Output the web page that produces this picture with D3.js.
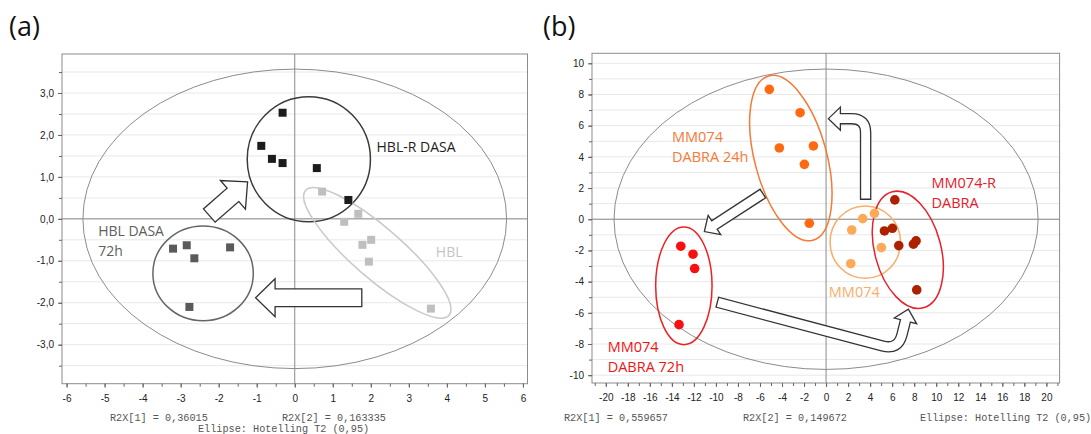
<!DOCTYPE html>
<html>
<head>
<meta charset="utf-8">
<script src="https://cdn.jsdelivr.net/npm/d3@7"></script>
<style>
  body { margin: 0; background: #fff; }
  svg { display: block; font-family: "Liberation Sans", Arial, sans-serif; }
</style>
</head>
<body>
<svg id="chart" width="1091" height="434"></svg>
<script>
// ---------- panel (a) data ----------
const aXLabels = d3.range(-6, 7, 1);
const aYLabels = d3.range(-3, 4, 1);
const aXMinor = d3.range(-6, 6.01, 0.5);
const aYMinor = d3.range(-3.5, 3.51, 0.5);

const hblrDasaX = [-0.32, -0.88, -0.60, -0.32, 0.58, 1.41];
const hblrDasaY = [2.53, 1.74, 1.43, 1.33, 1.21, 0.45];
const hblX = [0.72, 1.67, 1.30, 2.01, 1.78, 1.95, 3.58];
const hblY = [0.65, 0.12, -0.07, -0.50, -0.62, -1.02, -2.14];
const hblDasa72X = [-3.20, -2.84, -2.64, -1.70, -2.77];
const hblDasa72Y = [-0.71, -0.63, -0.94, -0.68, -2.10];

// confidence ellipses: centre, semi-axes (axis units), rotation (deg)
const aEllipses = [
  { name: "Hotelling", cx: 0, cy: 0, rx: 5.57, ry: 3.57, angle: 0 },
  { name: "HBL-R DASA", cx: 0.37, cy: 1.42, rx: 1.62, ry: 1.49, angle: 0 },
  { name: "HBL DASA 72h", cx: -2.41, cy: -1.30, rx: 1.32, ry: 1.13, angle: 0 },
  { name: "HBL", cx: 2.17, cy: -0.81, rx: 2.50, ry: 0.60, angle: 41 }
];
const aArrows = [
  { pts: [[-2.26, 0.07], [-1.24, 0.88]], r: 0 },
  { pts: [[1.78, -1.88], [-1.03, -1.88]], r: 0 }
];
const aLabels = [
  { text: ["HBL-R DASA"], x: 2.15, y: 1.59, key: "HBL-R DASA" },
  { text: ["HBL DASA", "72h"], x: -5.17, y: -0.42, key: "HBL DASA 72h" },
  { text: ["HBL"], x: 3.71, y: -0.91, key: "HBL" }
];
const aStats = ["R2X[1] = 0,36015", "R2X[2] = 0,163335", "Ellipse: Hotelling T2 (0,95)"];

// ---------- panel (b) data ----------
const bXLabels = d3.range(-20, 21, 2);
const bYLabels = d3.range(-10, 11, 2);
const bXMinor = d3.range(-21, 21.01, 1);
const bYMinor = d3.range(-10, 10.01, 1);

const dabra24X = [-5.15, -2.36, -4.24, -1.15, -1.97, -1.52];
const dabra24Y = [8.33, 6.83, 4.57, 4.70, 3.52, -0.26];
const mm074X = [3.33, 4.39, 2.33, 5.02, 2.24];
const mm074Y = [0.04, 0.38, -0.69, -1.82, -2.85];
const mm074RX = [6.24, 5.30, 6.02, 6.60, 7.93, 8.17, 8.23];
const mm074RY = [1.24, -0.75, -0.58, -1.69, -1.60, -1.39, -4.53];
const dabra72X = [-13.19, -12.08, -11.93, -13.35];
const dabra72Y = [-1.73, -2.24, -3.16, -6.76];

const bEllipses = [
  { name: "Hotelling", cx: 0, cy: 0, rx: 19.25, ry: 9.63, angle: 0 },
  { name: "DABRA 24h", cx: -3.20, cy: 3.92, rx: 7.72, ry: 2.31, angle: 75 },
  { name: "MM074", cx: 3.56, cy: -1.47, rx: 3.20, ry: 2.32, angle: 0 },
  { name: "MM074-R", cx: 7.42, cy: -1.96, rx: 5.45, ry: 2.12, angle: 75 },
  { name: "DABRA 72h", cx: -12.91, cy: -4.27, rx: 2.56, ry: 3.77, angle: 0 }
];
const bArrows = [
  { pts: [[3.59, 1.24], [3.59, 6.45], [0.21, 6.45]], r: 14 },
  { pts: [[-5.69, 1.67], [-11.05, -0.79]], r: 0 },
  { pts: [[-9.93, -5.31], [6.54, -8.39], [7.47, -5.77]], r: 16 }
];
const bLabels = [
  { text: ["MM074", "DABRA 24h"], x: -13.99, y: 4.95, key: "DABRA 24h" },
  { text: ["MM074-R", "DABRA"], x: 9.57, y: 2.0, key: "MM074-R" },
  { text: ["MM074"], x: 0.25, y: -4.99, key: "MM074" },
  { text: ["MM074", "DABRA 72h"], x: -19.83, y: -8.54, key: "DABRA 72h" }
];
const bStats = ["R2X[1] = 0,559657", "R2X[2] = 0,149672", "Ellipse: Hotelling T2 (0,95)"];

// ---------- styles ----------
const colors = {
  "Hotelling": "#8c8c8c",
  "HBL-R DASA": "#3a3a3a",
  "HBL DASA 72h": "#666666",
  "HBL": "#c9c9c9",
  "DABRA 24h": "#f47a35",
  "MM074": "#f9ad68",
  "MM074-R": "#e5232c",
  "DABRA 72h": "#ee2020"
};
const labelColors = {
  "HBL-R DASA": "#1e1e1e",
  "HBL DASA 72h": "#5e5e5e",
  "HBL": "#c4c4c4",
  "DABRA 24h": "#f47a35",
  "MM074": "#f9ad68",
  "MM074-R": "#e2202a",
  "DABRA 72h": "#ee1515"
};

const svg = d3.select("#chart");
svg.append("rect").attr("width", 1091).attr("height", 434).attr("fill", "#fff");

const comma = d3.formatLocale({ decimal: ",", thousands: ".", grouping: [3], currency: ["", ""], minus: "-" });

function drawPanel(cfg) {
  const { x, y } = cfg;
  const [x0, x1] = x.range(), [y1, y0] = y.range();
  const kx = x(1) - x(0), ky = y(0) - y(1);
  const g = svg.append("g");

  // horizontal grid
  g.append("g").selectAll("line").data(cfg.grid).join("line")
    .attr("x1", x0).attr("x2", x1)
    .attr("y1", d => y(d)).attr("y2", d => y(d))
    .attr("stroke", "#e8e8e8").attr("stroke-width", 1);

  // zero axes
  g.append("line").attr("x1", x(0)).attr("x2", x(0)).attr("y1", y0).attr("y2", y1)
    .attr("stroke", "#8a8a8a");
  g.append("line").attr("x1", x0).attr("x2", x1).attr("y1", y(0)).attr("y2", y(0))
    .attr("stroke", "#8a8a8a");

  // frame
  g.append("rect").attr("x", x0).attr("y", y0).attr("width", x1 - x0).attr("height", y1 - y0)
    .attr("fill", "none").attr("stroke", "#8c8c8c");

  // axes: minor ticks, then labelled ticks
  const axes = [
    { ax: d3.axisBottom(x).tickValues(cfg.xMinor).tickSize(3).tickFormat(""), t: `translate(0,${y1})` },
    { ax: d3.axisBottom(x).tickValues(cfg.xLabels).tickSize(4).tickPadding(7).tickFormat(cfg.xFmt), t: `translate(0,${y1})` },
    { ax: d3.axisLeft(y).tickValues(cfg.yMinor).tickSize(3).tickFormat(""), t: `translate(${x0},0)` },
    { ax: d3.axisLeft(y).tickValues(cfg.yLabels).tickSize(4).tickPadding(4).tickFormat(cfg.yFmt), t: `translate(${x0},0)` }
  ];
  axes.forEach(a => {
    const ag = g.append("g").attr("transform", a.t).call(a.ax);
    ag.select(".domain").remove();
    ag.selectAll("line").attr("stroke", "#666");
    ag.selectAll("text").attr("fill", "#222").style("font-size", "10px")
      .style("font-family", "'Liberation Sans', Arial, sans-serif");
  });

  // ellipses
  g.append("g").selectAll("ellipse").data(cfg.ellipses).join("ellipse")
    .attr("cx", d => x(d.cx)).attr("cy", d => y(d.cy))
    .attr("rx", d => d.rx * kx).attr("ry", d => d.ry * ky)
    .attr("transform", d => `rotate(${d.angle},${x(d.cx)},${y(d.cy)})`)
    .attr("fill", "none")
    .attr("stroke", d => colors[d.name])
    .attr("stroke-width", d => d.name === "Hotelling" ? 1 : 1.5);

  // arrows
  cfg.arrows.forEach(a => blockArrow(g, a.pts.map(p => [x(p[0]), y(p[1])]), a.r, cfg.arrowStyle));

  // points
  cfg.series.forEach(s => {
    const pts = s.xs.map((v, i) => [v, s.ys[i]]);
    if (s.shape === "square") {
      g.append("g").selectAll("rect").data(pts).join("rect")
        .attr("x", d => x(d[0]) - 4).attr("y", d => y(d[1]) - 4)
        .attr("width", 8).attr("height", 8).attr("fill", s.color);
    } else {
      g.append("g").selectAll("circle").data(pts).join("circle")
        .attr("cx", d => x(d[0])).attr("cy", d => y(d[1]))
        .attr("r", 4.8).attr("fill", s.color);
    }
  });

  // group labels
  cfg.labels.forEach(l => {
    const t = g.append("text").attr("x", x(l.x)).attr("y", y(l.y))
      .attr("fill", labelColors[l.key])
      .style("font-family", "'Open Sans', 'Noto Sans', sans-serif")
      .style("font-size", cfg.labelSize + "px");
    l.text.forEach((s, i) => t.append("tspan").attr("x", x(l.x)).attr("dy", i ? 19.5 : 0).text(s));
  });

  // panel letter
  svg.append("text").attr("x", cfg.letterX).attr("y", 36).text(cfg.letter)
    .attr("fill", "#111").style("font-family", "'Open Sans', 'Noto Sans', sans-serif")
    .style("font-size", "27px");

  // statistics footer
  cfg.stats.forEach((s, i) => {
    svg.append("text").attr("x", cfg.statPos[i][0]).attr("y", cfg.statPos[i][1]).text(s)
      .attr("fill", "#555").style("font-family", "'Liberation Mono', 'DejaVu Sans Mono', monospace")
      .style("font-size", "10.2px").attr("xml:space", "preserve");
  });
}

function unit(a, b) {
  const dx = b[0] - a[0], dy = b[1] - a[1], l = Math.hypot(dx, dy);
  return [dx / l, dy / l];
}

function roundPath(p, r) {
  let s = `M${p[0][0]},${p[0][1]}`;
  for (let i = 1; i < p.length - 1; i++) {
    const ui = unit(p[i - 1], p[i]), uo = unit(p[i], p[i + 1]);
    const a = [p[i][0] - ui[0] * r, p[i][1] - ui[1] * r];
    const b = [p[i][0] + uo[0] * r, p[i][1] + uo[1] * r];
    s += `L${a[0]},${a[1]}Q${p[i][0]},${p[i][1]} ${b[0]},${b[1]}`;
  }
  const e = p[p.length - 1];
  return s + `L${e[0]},${e[1]}`;
}

// hollow block arrow along a polyline with rounded bends
function blockArrow(g, pts, r, st) {
  const n = pts.length;
  const tip = pts[n - 1];
  const d = unit(pts[n - 2], tip);
  const base = [tip[0] - d[0] * st.headLen, tip[1] - d[1] * st.headLen];
  const u0 = unit(pts[0], pts[1]);
  const outer = pts.slice(0, n - 1).concat([base]);
  const inner = [[pts[0][0] + u0[0] * st.lw, pts[0][1] + u0[1] * st.lw]]
    .concat(pts.slice(1, n - 1), [[base[0] + d[0] * 2, base[1] + d[1] * 2]]);
  const nrm = [-d[1], d[0]];
  const w1 = [base[0] + nrm[0] * st.head / 2, base[1] + nrm[1] * st.head / 2];
  const w2 = [base[0] - nrm[0] * st.head / 2, base[1] - nrm[1] * st.head / 2];

  g.append("path").attr("d", roundPath(outer, r)).attr("fill", "none")
    .attr("stroke", "#333").attr("stroke-width", st.shaft);
  g.append("path").attr("d", `M${w1}L${tip}L${w2}Z`).attr("fill", "#fff")
    .attr("stroke", "#333").attr("stroke-width", st.lw).attr("stroke-linejoin", "miter");
  g.append("path").attr("d", roundPath(inner, r)).attr("fill", "none")
    .attr("stroke", "#fff").attr("stroke-width", st.shaft - 2 * st.lw);
}

drawPanel({
  x: d3.scaleLinear().domain([-6.12, 6.12]).range([62, 527.5]),
  y: d3.scaleLinear().domain([-3.93, 3.93]).range([383.7, 54]),
  grid: aYMinor,
  xMinor: aXMinor, yMinor: aYMinor, xLabels: aXLabels, yLabels: aYLabels,
  xFmt: comma.format("d"), yFmt: comma.format(".1f"),
  ellipses: aEllipses,
  arrows: aArrows,
  arrowStyle: { shaft: 19, head: 38, headLen: 19.5, lw: 1.3 },
  series: [
    { xs: hblX, ys: hblY, color: "#bfbfbf", shape: "square" },
    { xs: hblDasa72X, ys: hblDasa72Y, color: "#5a5a5a", shape: "square" },
    { xs: hblrDasaX, ys: hblrDasaY, color: "#1c1c1c", shape: "square" }
  ],
  labels: aLabels, labelSize: 14,
  letter: "(a)", letterX: 9,
  stats: aStats, statPos: [[110, 421], [282, 421], [198, 432]]
});

drawPanel({
  x: d3.scaleLinear().domain([-21.25, 21.2]).range([592, 1059.6]),
  y: d3.scaleLinear().domain([-10.5, 10.64]).range([383, 53.3]),
  grid: bYMinor,
  xMinor: bXMinor, yMinor: bYMinor, xLabels: bXLabels, yLabels: bYLabels,
  xFmt: comma.format("d"), yFmt: comma.format("d"),
  ellipses: bEllipses,
  arrows: bArrows,
  arrowStyle: { shaft: 11.5, head: 23, headLen: 12, lw: 1.3 },
  series: [
    { xs: dabra24X, ys: dabra24Y, color: "#ff6a10", shape: "circle" },
    { xs: mm074X, ys: mm074Y, color: "#fdaa58", shape: "circle" },
    { xs: mm074RX, ys: mm074RY, color: "#ad2000", shape: "circle" },
    { xs: dabra72X, ys: dabra72Y, color: "#f80f0f", shape: "circle" }
  ],
  labels: bLabels, labelSize: 14.5,
  letter: "(b)", letterX: 543,
  stats: bStats, statPos: [[564, 421], [743, 421], [920, 421]]
});
</script>
</body>
</html>
